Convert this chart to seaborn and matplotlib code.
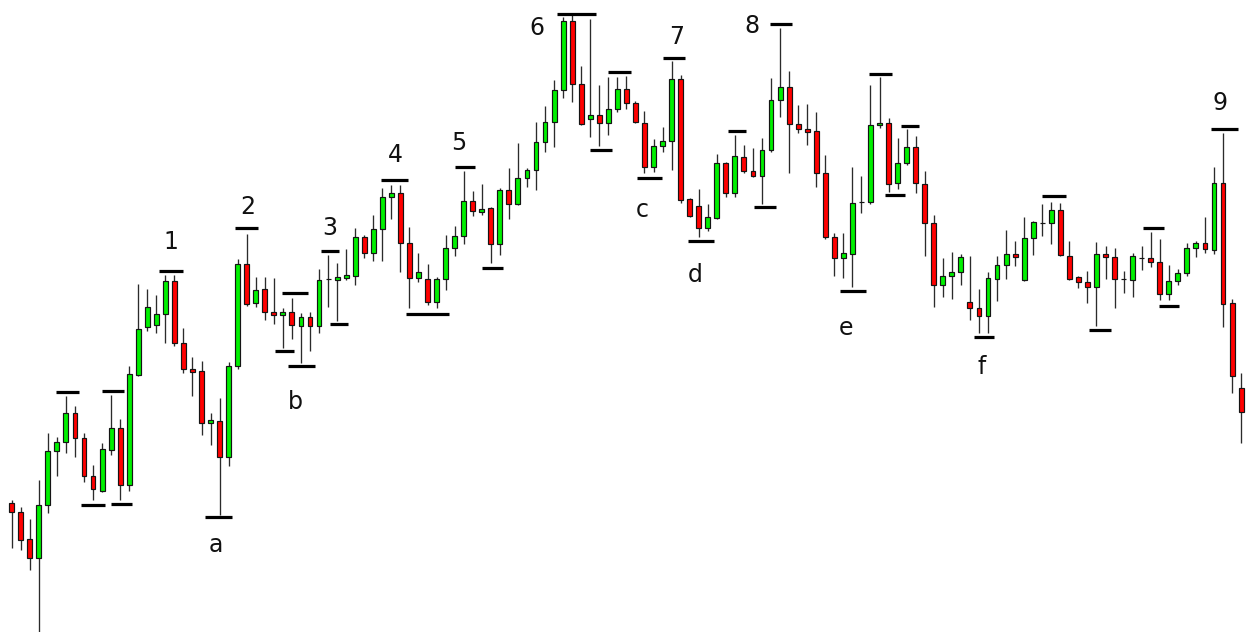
import matplotlib
matplotlib.use("Agg")
import matplotlib.pyplot as plt
import numpy as np
import pandas as pd
import seaborn as sns

# Daily OHLC prices (points)
opens = [129, 120, 93, 74, 127, 181, 190, 219, 194, 156, 141, 182, 204, 147, 257, 305, 307, 318, 351, 289,
         263, 261, 209, 211, 175, 266, 368, 329, 343, 320, 317, 320, 306, 315, 306, 353, 352, 354, 356, 395,
         379, 403, 435, 439, 389, 354, 353, 330, 353, 384, 396, 431, 420, 424, 388, 442, 428, 454, 462, 490,
         510, 542, 611, 548, 513, 517, 509, 523, 543, 529, 509, 465, 486, 491, 553, 433, 426, 404, 414, 469,
         439, 475, 461, 456, 482, 532, 545, 508, 503, 501, 459, 395, 374, 378, 430, 430, 507, 509, 449, 469,
         485, 448, 409, 347, 356, 360, 330, 324, 316, 353, 367, 378, 352, 394, 409, 409, 422, 376, 355, 350,
         345, 378, 375, 353, 352, 374, 374, 370, 338, 351, 359, 384, 389, 382, 449, 329, 244]
highs = [132, 125, 113, 152, 199, 195, 236, 226, 199, 167, 189, 237, 213, 266, 348, 343, 337, 357, 357, 304,
         275, 271, 219, 234, 270, 373, 398, 355, 355, 354, 324, 334, 319, 320, 363, 377, 369, 383, 404, 397,
         417, 444, 447, 447, 405, 379, 368, 355, 397, 406, 461, 441, 448, 425, 444, 464, 489, 464, 510, 526,
         552, 615, 617, 566, 613, 547, 555, 555, 556, 531, 521, 493, 505, 571, 557, 434, 443, 428, 478, 470,
         497, 487, 484, 494, 554, 604, 561, 527, 528, 520, 477, 399, 399, 465, 456, 547, 555, 514, 494, 503,
         496, 461, 417, 374, 380, 378, 376, 343, 360, 376, 402, 391, 415, 411, 428, 430, 429, 391, 356, 361,
         390, 386, 384, 361, 379, 386, 400, 393, 367, 363, 389, 391, 415, 465, 499, 333, 259]
lows = [84, 82, 62, -6, 119, 156, 179, 175, 150, 132, 140, 177, 132, 141, 256, 301, 299, 289, 286, 259,
        236, 197, 187, 117, 166, 263, 326, 325, 312, 308, 284, 293, 269, 281, 299, 325, 311, 352, 347, 374,
        371, 371, 413, 360, 324, 350, 327, 324, 342, 376, 388, 416, 417, 369, 377, 413, 427, 445, 442, 480,
        485, 534, 530, 507, 495, 486, 497, 520, 523, 509, 459, 460, 480, 462, 429, 415, 395, 401, 413, 435,
        435, 459, 455, 428, 480, 515, 459, 499, 487, 445, 393, 356, 354, 345, 419, 428, 504, 440, 443, 467,
        439, 376, 325, 335, 333, 347, 312, 299, 299, 331, 353, 366, 351, 377, 396, 388, 376, 352, 344, 329,
        306, 353, 324, 339, 335, 362, 365, 332, 332, 347, 356, 375, 379, 378, 305, 239, 189]
closes = [120, 92, 74, 127, 181, 190, 219, 194, 156, 143, 183, 204, 147, 258, 303, 325, 318, 351, 289, 263,
          260, 209, 212, 175, 266, 368, 328, 342, 320, 317, 320, 307, 315, 306, 352, 353, 355, 357, 395, 379,
          403, 435, 439, 389, 354, 360, 330, 353, 384, 396, 431, 421, 423, 388, 442, 428, 454, 462, 490, 510,
          542, 611, 548, 508, 517, 509, 523, 543, 529, 510, 465, 486, 491, 553, 432, 416, 404, 415, 469, 439,
          476, 461, 456, 482, 532, 545, 508, 503, 500, 459, 395, 374, 379, 429, 430, 507, 509, 448, 469, 485,
          449, 409, 347, 356, 360, 375, 324, 316, 354, 367, 378, 375, 394, 410, 409, 422, 377, 353, 350, 345,
          378, 375, 353, 353, 376, 374, 370, 338, 351, 359, 384, 389, 383, 449, 328, 256, 220]

# Swing levels: bar start / end (candle index) and price level
swing_start = [4.9, 7.7, 10.0, 11.0, 16.3, 21.4, 24.7, 29.9, 29.1, 30.6, 34.2, 35.2, 40.9, 43.6, 49.0,
               52.0, 60.3, 64.0, 66.0, 69.2, 72.0, 74.8, 83.9, 79.2, 82.1, 91.6, 94.8, 96.6, 98.4, 106.5,
               114.0, 119.2, 125.1, 126.9, 132.7]
swing_end = [7.4, 10.3, 12.4, 13.3, 18.9, 24.4, 27.3, 32.8, 31.2, 33.5, 36.2, 37.2, 43.8, 48.4, 51.3,
             54.4, 64.6, 66.4, 68.5, 71.9, 74.5, 77.7, 86.3, 81.2, 84.6, 94.5, 97.4, 98.8, 100.4, 108.7,
             116.6, 121.6, 127.5, 129.1, 135.6]
swing_level = [240, 127, 241, 128, 361, 115, 404, 339, 281, 266, 381, 308, 452, 318, 465,
               364, 618, 482, 560, 454, 574, 391, 608, 501, 425, 341, 558, 437, 506, 295,
               436, 302, 404, 326, 503]

# Wave labels: peaks numbered, troughs lettered
wave_labels = ["1", "2", "3", "4", "5", "6", "7", "8", "9", "a", "b", "c", "d", "e", "f"]
wave_x = [17.6, 26.1, 35.2, 42.4, 49.5, 58.1, 73.5, 81.9, 133.7, 22.6, 31.4, 69.7, 75.6, 92.3, 107.3]
wave_y = [390, 425, 404, 477, 489, 604, 595, 606, 529, 87, 230, 422, 357, 304, 265]

df = pd.DataFrame({"open": opens, "high": highs, "low": lows, "close": closes})
df["idx"] = np.arange(len(df))
df["up"] = df["close"] >= df["open"]

sns.set_theme(style="white")
plt.rcParams["font.family"] = ["DejaVu Sans"]

fig = plt.figure(figsize=(12.46, 6.32), dpi=100)
ax = fig.add_axes([0, 0, 1, 1])

UP = "#00f000"
DOWN = "#ff0000"

# wicks
ax.vlines(df["idx"], df["low"], df["high"], color="#2b2b2b", linewidth=0.95, zorder=1)

# bodies
bottoms = np.minimum(df["open"], df["close"])
heights = np.abs(df["close"] - df["open"])
colors = [UP if u else DOWN for u in df["up"]]
colors = ["#333333" if h == 0 else c for h, c in zip(heights, colors)]
ax.bar(df["idx"], heights, bottom=bottoms, width=0.54, color=colors,
       edgecolor="#141414", linewidth=0.85, zorder=2)

# swing level bars
ax.hlines(swing_level, swing_start, swing_end, color="black", linewidth=2.3,
          capstyle="butt", zorder=3)

for t, x, y in zip(wave_labels, wave_x, wave_y):
    ax.text(x, y, t, ha="center", va="center", fontsize=17, color="#111111", zorder=4)

ax.set_xlim(-1.294, 136.54)
ax.set_ylim(0, 632)
ax.axis("off")
fig.patch.set_facecolor("white")

fig.savefig("out.png", dpi=100, facecolor="white")
